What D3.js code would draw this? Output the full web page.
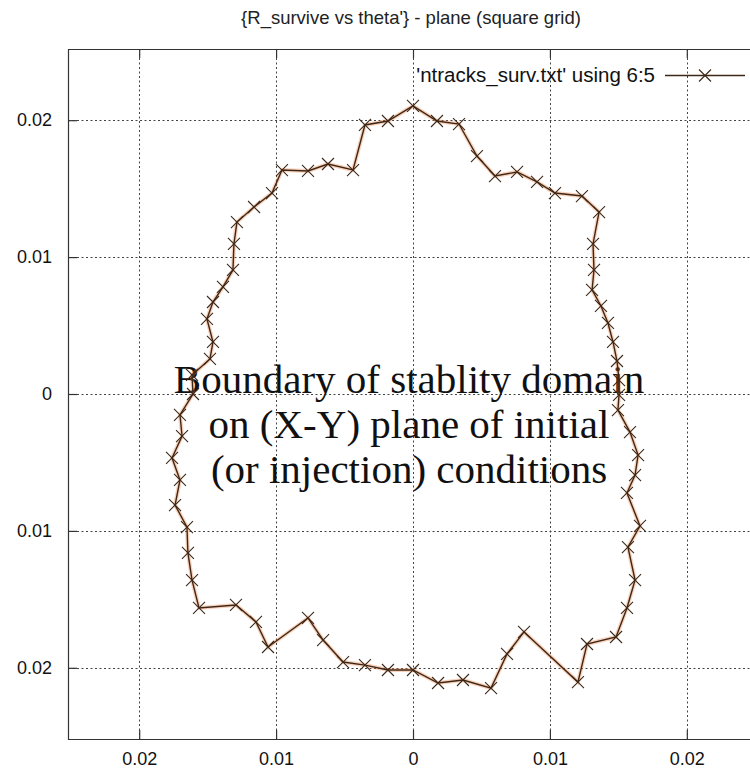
<!DOCTYPE html>
<html>
<head>
<meta charset="utf-8">
<script src="https://cdn.jsdelivr.net/npm/d3@7"></script>
<style>
  html, body { margin: 0; padding: 0; background: #fff; }
  svg { display: block; }
</style>
</head>
<body>
<svg id="chart" width="750" height="774"></svg>
<script>
// Surviving-track boundary points (X, Y) in the order they are joined
const xValues = [
  0.00000, 0.00175, 0.00336, 0.00467, 0.00599, 0.00760, 0.00906, 0.01037, 0.01234, 0.01359,
  0.01315, 0.01322, 0.01308, 0.01373, 0.01424, 0.01461, 0.01490, 0.01505, 0.01505, 0.01497,
  0.01585, 0.01644, 0.01622, 0.01563, 0.01658, 0.01570, 0.01622, 0.01563, 0.01483, 0.01271,
  0.01205, 0.00811, 0.00687, 0.00570, 0.00365, 0.00183, 0.00000, -0.00183, -0.00351, -0.00511,
  -0.00657, -0.00767, -0.01059, -0.01147, -0.01293, -0.01563, -0.01614, -0.01644, -0.01651, -0.01738,
  -0.01702, -0.01760, -0.01687, -0.01702, -0.01607, -0.01614, -0.01483, -0.01461, -0.01505, -0.01461,
  -0.01388, -0.01315, -0.01308, -0.01286, -0.01161, -0.01030, -0.00957, -0.00767, -0.00621, -0.00438,
  -0.00351, -0.00183
];
const yValues = [
  0.02104, 0.01994, 0.01972, 0.01738, 0.01592, 0.01622, 0.01549, 0.01468, 0.01446, 0.01329,
  0.01096, 0.00906, 0.00760, 0.00643, 0.00519, 0.00380, 0.00241, 0.00102, -0.00007, -0.00117,
  -0.00278, -0.00446, -0.00592, -0.00723, -0.00964, -0.01118, -0.01359, -0.01563, -0.01775, -0.01826,
  -0.02104, -0.01738, -0.01899, -0.02148, -0.02089, -0.02111, -0.02016, -0.02016, -0.01980, -0.01958,
  -0.01797, -0.01636, -0.01848, -0.01665, -0.01541, -0.01563, -0.01359, -0.01161, -0.00972, -0.00811,
  -0.00628, -0.00467, -0.00307, -0.00153, 0.00000, 0.00139, 0.00256, 0.00380, 0.00548, 0.00672,
  0.00782, 0.00906, 0.01096, 0.01256, 0.01366, 0.01468, 0.01636, 0.01629, 0.01680, 0.01636,
  0.01965, 0.01994
];

// Tick positions and their printed labels
const xTicks = [-0.02, -0.01, 0, 0.01, 0.02];
const xTickLabels = ["0.02", "0.01", "0", "0.01", "0.02"];
const yTicks = [0.02, 0.01, 0, -0.01, -0.02];
const yTickLabels = ["0.02", "0.01", "0", "0.01", "0.02"];

const titleText = "{R_survive vs theta'} - plane (square grid)";
const legendText = "'ntracks_surv.txt' using 6:5";
const noteLines = [
  "Boundary of stablity domain",
  "on (X-Y) plane of initial",
  "(or injection) conditions"
];

const points = xValues.map((x, i) => ({ x, y: yValues[i] }));
const closed = points.concat([points[0]]);

const svg = d3.select("#chart");
const frame = { left: 68, right: 758, top: 49, bottom: 739 };

const x = d3.scaleLinear().domain([-0.0252, 0.0252]).range([frame.left, frame.right]);
const y = d3.scaleLinear().domain([-0.0252, 0.0252]).range([frame.bottom, frame.top]);

const sans = "'Liberation Sans', Arial, sans-serif";
const serif = "'Liberation Serif', 'Times New Roman', serif";

// Title
svg.append("text")
  .attr("x", 411).attr("y", 24)
  .attr("text-anchor", "middle")
  .attr("font-family", sans).attr("font-size", 18.5)
  .attr("fill", "#222")
  .text(titleText);

// Dotted grid
const grid = svg.append("g").attr("stroke", "#444").attr("stroke-width", 1)
  .attr("stroke-dasharray", "2,2.5").attr("fill", "none");
xTicks.forEach(t => {
  grid.append("line").attr("x1", Math.round(x(t)) + 0.5).attr("x2", Math.round(x(t)) + 0.5)
    .attr("y1", frame.top).attr("y2", frame.bottom);
});
yTicks.forEach(t => {
  grid.append("line").attr("y1", Math.round(y(t)) + 0.5).attr("y2", Math.round(y(t)) + 0.5)
    .attr("x1", frame.left).attr("x2", frame.right);
});

// Border (left, top, bottom)
svg.append("path")
  .attr("d", `M${frame.right},${frame.top + 0.5}H${frame.left + 0.5}V${frame.bottom + 0.5}H${frame.right}`)
  .attr("fill", "none").attr("stroke", "#333").attr("stroke-width", 1.2);

// Axes with inward ticks
const xAxisBottom = d3.axisBottom(x).tickValues(xTicks).tickSize(-9).tickFormat((d, i) => xTickLabels[i]).tickPadding(13);
const xAxisTop = d3.axisTop(x).tickValues(xTicks).tickSize(-9).tickFormat("");
const yAxisLeft = d3.axisLeft(y).tickValues(yTicks).tickSize(-9).tickFormat((d, i) => yTickLabels[i]).tickPadding(16);

function styleAxis(g) {
  g.select(".domain").remove();
  g.selectAll(".tick line").attr("stroke", "#333").attr("stroke-width", 1.2);
  g.selectAll(".tick text").attr("font-family", sans).attr("font-size", 18).attr("fill", "#111");
}
svg.append("g").attr("transform", `translate(0,${frame.bottom})`).call(xAxisBottom).call(styleAxis);
svg.append("g").attr("transform", `translate(0,${frame.top})`).call(xAxisTop).call(styleAxis);
svg.append("g").attr("transform", `translate(${frame.left},0)`).call(yAxisLeft).call(styleAxis);

// Annotation
const note = svg.append("text")
  .attr("font-family", serif).attr("font-size", 41)
  .attr("fill", "#111").attr("text-anchor", "middle");
noteLines.forEach((line, i) => {
  note.append("tspan").attr("x", 409).attr("y", 393 + i * 45).text(line);
});

// Boundary curve
const line = d3.line().x(d => x(d.x)).y(d => y(d.y));
const lineColor = "#3d2818";

svg.append("path").datum(closed)
  .attr("d", line).attr("fill", "none")
  .attr("stroke", "#f07a3a").attr("stroke-opacity", 0.35).attr("stroke-width", 4);
svg.append("path").datum(closed)
  .attr("d", line).attr("fill", "none")
  .attr("stroke", lineColor).attr("stroke-width", 1.4);

const cross = 6;
const marks = svg.append("g").attr("stroke", lineColor).attr("stroke-width", 1.1);
marks.selectAll("path").data(points).join("path")
  .attr("d", d => {
    const cx = x(d.x), cy = y(d.y);
    return `M${cx - cross},${cy - cross}L${cx + cross},${cy + cross}M${cx - cross},${cy + cross}L${cx + cross},${cy - cross}`;
  });

// Legend
svg.append("text")
  .attr("x", 655).attr("y", 82)
  .attr("text-anchor", "end")
  .attr("font-family", sans).attr("font-size", 20.5)
  .attr("fill", "#111")
  .text(legendText);
svg.append("line")
  .attr("x1", 665).attr("x2", 745).attr("y1", 75.5).attr("y2", 75.5)
  .attr("stroke", lineColor).attr("stroke-width", 1.4);
svg.append("path")
  .attr("d", `M${705 - cross},${75.5 - cross}L${705 + cross},${75.5 + cross}M${705 - cross},${75.5 + cross}L${705 + cross},${75.5 - cross}`)
  .attr("stroke", lineColor).attr("stroke-width", 1.1);
</script>
</body>
</html>
